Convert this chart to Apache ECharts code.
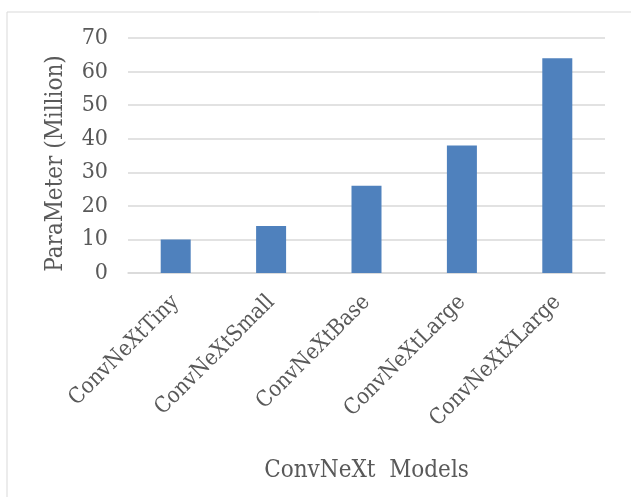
<!DOCTYPE html>
<html>
<head>
<meta charset="utf-8">
<script src="https://cdn.jsdelivr.net/npm/echarts@6/dist/echarts.min.js"></script>
<style>
  html, body { margin: 0; padding: 0; background: #fff; }
  #main { width: 631px; height: 497px; }
</style>
</head>
<body>
<div id="main"></div>
<script>
  var models = ['ConvNeXtTiny', 'ConvNeXtSmall', 'ConvNeXtBase', 'ConvNeXtLarge', 'ConvNeXtXLarge'];
  var params = [10, 14, 26, 38, 64];

  var textColor = '#595959';
  var font = '"DejaVu Serif Condensed", "Liberation Serif", serif';

  var myChart = echarts.init(document.getElementById('main'));
  var option = {
    backgroundColor: '#fff',
    animation: false,
    graphic: [{
      type: 'rect',
      shape: { x: 7, y: 12, width: 700, height: 600 },
      style: { fill: 'none', stroke: '#d9d9d9', lineWidth: 1 },
      silent: true
    }],
    grid: { left: 128, right: 26, top: 38, bottom: 224 },
    xAxis: {
      type: 'category',
      data: models,
      name: 'ConvNeXt  Models',
      nameLocation: 'middle',
      nameGap: 186,
      nameTextStyle: { fontFamily: font, fontSize: 24, color: textColor },
      axisLine: { lineStyle: { color: '#d9d9d9', width: 1.5 } },
      axisTick: { show: false },
      axisLabel: {
        rotate: 45,
        interval: 0,
        margin: 26,
        fontFamily: font,
        fontSize: 22,
        color: textColor
      }
    },
    yAxis: {
      type: 'value',
      min: 0,
      max: 70,
      interval: 10,
      name: 'ParaMeter (Million)',
      nameLocation: 'middle',
      nameGap: 60,
      nameTextStyle: { fontFamily: font, fontSize: 24, color: textColor, padding: [0, 16, 0, 0] },
      axisLine: { show: false },
      axisTick: { show: false },
      axisLabel: { margin: 20, fontFamily: font, fontSize: 23, color: textColor },
      splitLine: { lineStyle: { color: '#d9d9d9', width: 1.5 } }
    },
    series: [{
      type: 'bar',
      data: params,
      barWidth: 30,
      itemStyle: { color: '#4f81bd' }
    }]
  };
  myChart.setOption(option);
</script>
</body>
</html>
